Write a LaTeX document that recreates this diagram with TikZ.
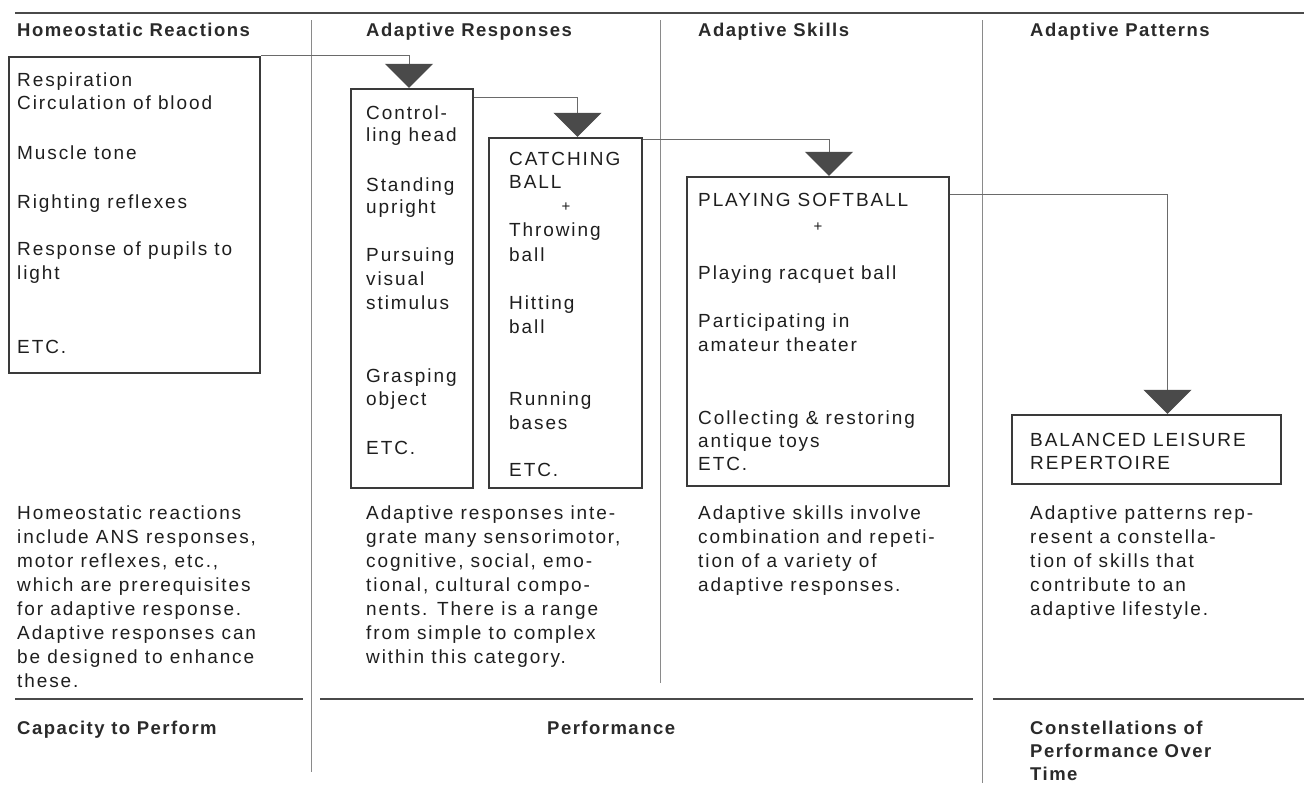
\documentclass[tikz,border=0pt]{standalone}
\usepackage{fontspec}
\setmainfont{Liberation Sans}[LetterSpace=10]
\newfontfamily\hdfont{Liberation Sans}[LetterSpace=8]
\usetikzlibrary{arrows.meta,fit}
\definecolor{ink}{HTML}{1E1E1E}
\definecolor{hdink}{HTML}{2A2A2A}
\definecolor{boxc}{HTML}{3A3A3A}
\definecolor{linec}{HTML}{6A6A6A}
\definecolor{tipc}{HTML}{4A4A4A}
\definecolor{rulec}{HTML}{4A4A4A}
\definecolor{divc}{HTML}{8A8A8A}
\newcommand\mylines[1]{\begin{tabular}[t]{@{}l@{}}#1\end{tabular}}
\tikzset{
  txt/.style={anchor=base west, inner sep=0pt, text=ink, font=\fontsize{19}{24}\selectfont},
  hd/.style={anchor=base west, inner sep=0pt, text=hdink, font=\hdfont\bfseries\fontsize{18.5}{23.5}\selectfont},
  plus/.style={anchor=base, inner sep=0pt, text=ink, font=\fontsize{15}{15}\selectfont},
  boxn/.style={draw=boxc, line width=2.4pt, inner sep=0pt},
  conn/.style={draw=linec, line width=1pt, -{Triangle[width=48pt,length=24pt,color=tipc,fill=tipc]}},
  rulen/.style={draw=rulec, line width=1.8pt},
  divider/.style={draw=divc, line width=1pt}
}
\begin{document}
\begin{tikzpicture}[x=1pt,y=-1pt]
\useasboundingbox (0,0) rectangle (1304,798);
% rules and dividers
\draw[rulen, line width=1.4pt] (15,13) -- (1304,13);
\draw[divider] (311,20) -- (311,772);
\draw[divider] (660,20) -- (660,683);
\draw[divider] (982,20) -- (982,783);
\draw[rulen] (15,699) -- (303,699);
\draw[rulen] (320,699) -- (973,699);
\draw[rulen] (993,699) -- (1304,699);
% headers
\node[hd] (h1) at (17,36) {Homeostatic Reactions};
\node[hd] (h2) at (366,36) {Adaptive Responses};
\node[hd] (h3) at (698,36) {Adaptive Skills};
\node[hd] (h4) at (1030,36) {Adaptive Patterns};
% boxes
\node[boxn, fit={(9,57) (260,373)}] (b1) {};
\node[boxn, fit={(351,89) (473,488)}] (b2) {};
\node[boxn, fit={(489,138) (642,488)}] (b3) {};
\node[boxn, fit={(687,177) (949,486)}] (b4) {};
\node[boxn, fit={(1012,415) (1281,484)}] (b5) {};
% box 1 text
\node[txt] (t1a) at (17,86) {\mylines{Respiration\\[-1pt]Circulation of blood}};
\node[txt] (t1b) at (17,159) {Muscle tone};
\node[txt] (t1c) at (17,208) {Righting reflexes};
\node[txt] (t1d) at (17,255) {\mylines{Response of pupils to\\light}};
\node[txt] (t1e) at (17,353) {ETC.};
% box 2 text
\node[txt] (t2a) at (366,119) {\mylines{Control-\\[-2pt]ling head}};
\node[txt] (t2b) at (366,191) {\mylines{Standing\\[-2pt]upright}};
\node[txt] (t2c) at (366,261) {\mylines{Pursuing\\visual\\stimulus}};
\node[txt] (t2d) at (366,382) {\mylines{Grasping\\[-1pt]object}};
\node[txt] (t2e) at (366,454) {ETC.};
% box 3 text
\node[txt] (t3a) at (509,165) {\mylines{CATCHING\\[-1pt]BALL}};
\node[plus] (t3p) at (566,211) {+};
\node[txt] (t3b) at (509,236) {\mylines{Throwing\\[1pt]ball}};
\node[txt] (t3c) at (509,309) {\mylines{Hitting\\ball}};
\node[txt] (t3d) at (509,405) {\mylines{Running\\bases}};
\node[txt] (t3e) at (509,476) {ETC.};
% box 4 text
\node[txt] (t4a) at (698,206) {PLAYING SOFTBALL};
\node[plus] (t4p) at (818,231) {+};
\node[txt] (t4b) at (698,279) {Playing racquet ball};
\node[txt] (t4c) at (698,327) {\mylines{Participating in\\amateur theater}};
\node[txt] (t4d) at (698,424) {\mylines{Collecting \& restoring\\[-1pt]antique toys\\[-1pt]ETC.}};
% box 5 text
\node[txt] (t5a) at (1030,446) {\mylines{BALANCED LEISURE\\[-1pt]REPERTOIRE}};
% connectors
\draw[conn] (b1.north east) -| ([xshift=-3pt]b2.north);
\draw[conn] ([yshift=-10pt]b2.north east) -| ([xshift=12pt]b3.north);
\draw[conn] ([yshift=-3pt]b3.north east) -| ([xshift=11pt]b4.north);
\draw[conn] ([yshift=-19pt]b4.north east) -| ([xshift=21pt]b5.north);
% paragraphs
\node[txt] (p1) at (17,519) {\mylines{Homeostatic reactions\\include ANS responses,\\motor reflexes, etc.,\\which are prerequisites\\for adaptive response.\\Adaptive responses can\\be designed to enhance\\these.}};
\node[txt] (p2) at (366,519) {\mylines{Adaptive responses inte-\\grate many sensorimotor,\\cognitive, social, emo-\\tional, cultural compo-\\nents. There is a range\\from simple to complex\\within this category.}};
\node[txt] (p3) at (698,519) {\mylines{Adaptive skills involve\\combination and repeti-\\tion of a variety of\\adaptive responses.}};
\node[txt] (p4) at (1030,519) {\mylines{Adaptive patterns rep-\\resent a constella-\\tion of skills that\\contribute to an\\adaptive lifestyle.}};
% bottom labels
\node[hd] (f1) at (17,734) {Capacity to Perform};
\node[hd] (f2) at (547,734) {Performance};
\node[hd] (f3) at (1030,734) {\mylines{Constellations of\\[-0.5pt]Performance Over\\[-0.5pt]Time}};
\end{tikzpicture}
\end{document}
